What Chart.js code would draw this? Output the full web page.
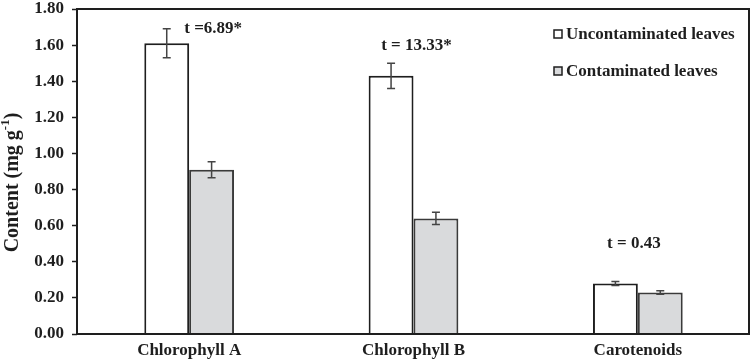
<!DOCTYPE html>
<html><head><meta charset="utf-8">
<script src="https://cdn.jsdelivr.net/npm/chart.js@4.4.1/dist/chart.umd.min.js"></script>
<style>html,body{margin:0;padding:0;background:#fff;}#wrap{width:751px;height:360px;}</style>
</head><body><div id="wrap"><canvas id="c" width="751" height="360"></canvas></div>
<script>
const categories = ['Chlorophyll A', 'Chlorophyll B', 'Carotenoids'];
const seriesNames = ['Uncontaminated leaves', 'Contaminated leaves'];
const uncontaminated = [1.61, 1.43, 0.28];
const uncontaminatedErr = [0.08, 0.07, 0.011];
const contaminated = [0.91, 0.64, 0.23];
const contaminatedErr = [0.044, 0.034, 0.01];
const tLabels = ['t =6.89*', 't = 13.33*', 't = 0.43'];
const yMin = 0, yMax = 1.8, yStep = 0.2;

const FONT = '"Liberation Serif", "Times New Roman", serif';
const INK = '#1e1e1e';

const errPlugin = {
  id: 'errBars',
  afterDatasetsDraw(chart) {
    const ctx = chart.ctx, ys = chart.scales.y;
    const errs = [uncontaminatedErr, contaminatedErr];
    chart.data.datasets.forEach((ds, di) => {
      const meta = chart.getDatasetMeta(di);
      meta.data.forEach((el, i) => {
        const v = ds.data[i], e = errs[di][i];
        const t = ys.getPixelForValue(v + e), b = ys.getPixelForValue(v - e);
        ctx.save();
        ctx.strokeStyle = '#444'; ctx.lineWidth = 1.5;
        ctx.beginPath();
        ctx.moveTo(el.x, t); ctx.lineTo(el.x, b);
        ctx.moveTo(el.x - 4, t); ctx.lineTo(el.x + 4, t);
        ctx.moveTo(el.x - 4, b); ctx.lineTo(el.x + 4, b);
        ctx.stroke();
        ctx.restore();
      });
    });
  }
};

const decorPlugin = {
  id: 'decor',
  afterDraw(chart, args, opts) {
    const ctx = chart.ctx, ca = chart.chartArea, xs = chart.scales.x, ys = chart.scales.y;
    ctx.save();
    // frame
    ctx.strokeStyle = INK; ctx.lineWidth = 2;
    ctx.strokeRect(ca.left, ca.top, ca.right - ca.left - 1, ca.bottom - ca.top);
    // t labels
    ctx.fillStyle = INK; ctx.font = 'bold 17px ' + FONT;
    ctx.textAlign = 'center'; ctx.textBaseline = 'middle';
    tLabels.forEach((txt, i) => {
      const p = opts.tPos[i];
      ctx.fillText(txt, xs.getPixelForValue(i) + p.dx, ys.getPixelForValue(p.v));
    });
    // legend
    ctx.textAlign = 'left';
    const fills = ['#ffffff', '#d9dadc'];
    seriesNames.forEach((name, i) => {
      const y = ca.top + 25 + i * 37;
      const x = ca.right - 196;
      ctx.fillStyle = fills[i];
      ctx.fillRect(x, y - 4, 8, 8);
      ctx.strokeStyle = INK; ctx.lineWidth = 1.5;
      ctx.strokeRect(x, y - 4, 8, 8);
      ctx.fillStyle = INK;
      ctx.fillText(name, x + 12, y + 1);
    });
    // y title with superscript
    ctx.translate(13, (ca.top + ca.bottom) / 2 + 11);
    ctx.rotate(-Math.PI / 2);
    const big = 'bold 20px ' + FONT, small = 'bold 13px ' + FONT;
    const p1 = 'Content (mg g', p2 = '-1', p3 = ')';
    ctx.font = big; const w1 = ctx.measureText(p1).width, w3 = ctx.measureText(p3).width;
    ctx.font = small; const w2 = ctx.measureText(p2).width;
    let x0 = -(w1 + w2 + w3) / 2;
    ctx.textAlign = 'left';
    ctx.font = big; ctx.fillText(p1, x0, 0);
    ctx.font = small; ctx.fillText(p2, x0 + w1, -7);
    ctx.font = big; ctx.fillText(p3, x0 + w1 + w2, 0);
    ctx.restore();
  }
};

const yTickValues = [];
for (let v = yMin; v <= yMax + 1e-9; v += yStep) yTickValues.push(+v.toFixed(2));

new Chart(document.getElementById('c'), {
  type: 'bar',
  data: {
    labels: categories,
    datasets: [
      { label: seriesNames[0], data: uncontaminated, backgroundColor: '#ffffff', borderColor: INK, borderWidth: 2, categoryPercentage: 0.4, barPercentage: 1.0 },
      { label: seriesNames[1], data: contaminated, backgroundColor: '#d9dadc', borderColor: '#3a3a3a', borderWidth: 2, categoryPercentage: 0.4, barPercentage: 1.0 }
    ]
  },
  options: {
    responsive: false, devicePixelRatio: 1, animation: false,
    layout: { padding: { left: 0, top: 9, right: 1, bottom: 0 } },
    plugins: {
      legend: { display: false }, tooltip: { enabled: false },
      decor: { tPos: [{ dx: 24, v: 1.69 }, { dx: 3, v: 1.60 }, { dx: -4, v: 0.50 }] }
    },
    scales: {
      x: {
        grid: { display: false, drawTicks: false, tickLength: 0 },
        border: { display: false },
        ticks: { color: INK, font: { family: FONT, size: 17, weight: 'bold' }, padding: 6, maxRotation: 0 },
        afterFit(s) { s.height = 26; s.paddingLeft = 0; s.paddingRight = 0; }
      },
      y: {
        min: yMin, max: yMax,
        afterBuildTicks(s) { s.ticks = yTickValues.map(v => ({ value: v })); },
        grid: { drawOnChartArea: false, tickLength: 5, tickColor: INK, tickWidth: 1.5 },
        border: { display: false },
        ticks: { color: INK, font: { family: FONT, size: 17, weight: 'bold' }, padding: 8, callback: v => v.toFixed(2) },
        afterFit(s) { s.width = 77; s.paddingTop = 0; s.paddingBottom = 0; }
      }
    }
  },
  plugins: [errPlugin, decorPlugin]
});
</script></body></html>
